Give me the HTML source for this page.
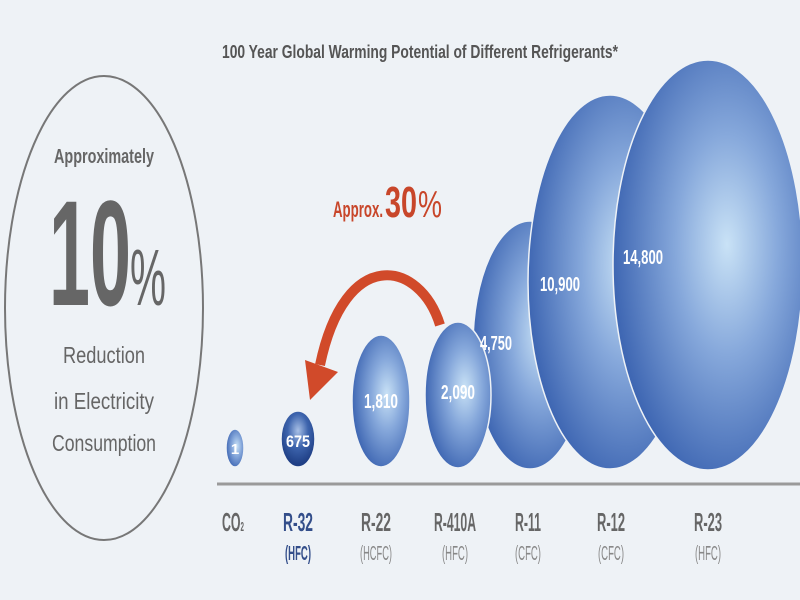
<!DOCTYPE html>
<html><head><meta charset="utf-8"><style>
html,body{margin:0;padding:0;background:#eef2f6;}
svg{display:block;font-family:"Liberation Sans",sans-serif;}
</style></head><body>
<svg width="800" height="600" viewBox="0 0 800 600">
<defs>
<radialGradient id="b" cx="0.6" cy="0.45" r="0.6">
<stop offset="0" stop-color="#c9e2f6"/><stop offset="0.45" stop-color="#86a8db"/><stop offset="1" stop-color="#3f67b3"/>
</radialGradient>
<radialGradient id="d" cx="0.5" cy="0.35" r="0.6">
<stop offset="0" stop-color="#a8c0e6"/><stop offset="0.5" stop-color="#3d64ad"/><stop offset="1" stop-color="#1f3f85"/>
</radialGradient>
</defs>
<rect width="800" height="600" fill="#eef2f6"/>
<text x="420" y="58" font-size="18" font-weight="bold" fill="#555" text-anchor="middle" textLength="396" lengthAdjust="spacingAndGlyphs">100 Year Global Warming Potential of Different Refrigerants*</text>
<ellipse cx="104" cy="308" rx="99" ry="232" fill="none" stroke="#777" stroke-width="2"/>
<g fill="#666" text-anchor="middle" font-weight="bold">
<text x="104" y="163" font-size="20" textLength="100" lengthAdjust="spacingAndGlyphs">Approximately</text>
<text x="90" y="305" font-size="150" textLength="82" lengthAdjust="spacingAndGlyphs">10</text>
<text x="148" y="305" font-size="80" font-weight="normal" textLength="36" lengthAdjust="spacingAndGlyphs">%</text>
<text x="104" y="363" font-size="23" font-weight="normal" textLength="82" lengthAdjust="spacingAndGlyphs">Reduction</text>
<text x="104" y="409" font-size="23" font-weight="normal" textLength="100" lengthAdjust="spacingAndGlyphs">in Electricity</text>
<text x="104" y="451" font-size="23" font-weight="normal" textLength="104" lengthAdjust="spacingAndGlyphs">Consumption</text>
</g>
<g stroke="#eef2f6" stroke-width="1.5">
<ellipse cx="530" cy="345" rx="57" ry="124" fill="url(#b)"/>
<ellipse cx="610" cy="282" rx="82" ry="187" fill="url(#b)"/>
<ellipse cx="708" cy="265" rx="95" ry="205" fill="url(#b)"/>
<ellipse cx="458" cy="395" rx="33" ry="73" fill="url(#b)"/>
<ellipse cx="381" cy="401" rx="29" ry="66" fill="url(#b)"/>
<ellipse cx="298" cy="439" rx="17" ry="28" fill="url(#d)"/>
<ellipse cx="235" cy="448" rx="9" ry="19" fill="url(#b)"/>
</g>
<g fill="#fff" font-size="20" font-weight="bold" text-anchor="middle">
<text x="235" y="454" font-size="15">1</text>
<text x="298" y="447" font-size="17" textLength="24" lengthAdjust="spacingAndGlyphs">675</text>
<text x="381" y="408" textLength="34" lengthAdjust="spacingAndGlyphs">1,810</text>
<text x="458" y="399" textLength="34" lengthAdjust="spacingAndGlyphs">2,090</text>
<text x="496" y="350" textLength="32" lengthAdjust="spacingAndGlyphs">4,750</text>
<text x="560" y="291" textLength="40" lengthAdjust="spacingAndGlyphs">10,900</text>
<text x="643" y="264" textLength="40" lengthAdjust="spacingAndGlyphs">14,800</text>
</g>
<path d="M440 325 C420 260 345 245 320 365" fill="none" stroke="#d14a2a" stroke-width="10"/>
<polygon points="305,360 338,372 310,400" fill="#d14a2a"/>
<text x="333" y="217" font-size="22" font-weight="bold" fill="#c8462a" textLength="50" lengthAdjust="spacingAndGlyphs">Approx.</text>
<text x="385" y="217" font-size="44" fill="#c8462a" font-weight="bold" textLength="32" lengthAdjust="spacingAndGlyphs">30</text>
<text x="418" y="217" font-size="38" fill="#c8462a" textLength="24" lengthAdjust="spacingAndGlyphs">%</text>
<line x1="217" y1="484" x2="800" y2="484" stroke="#9a9a9a" stroke-width="3"/>
<g font-size="26" text-anchor="middle" fill="#666" font-weight="bold">
<text x="233" y="531" textLength="22" lengthAdjust="spacingAndGlyphs">CO<tspan font-size="13">2</tspan></text>
<text x="298" y="531" fill="#334e8a" textLength="30" lengthAdjust="spacingAndGlyphs">R-32</text>
<text x="376" y="531" textLength="30" lengthAdjust="spacingAndGlyphs">R-22</text>
<text x="455" y="531" textLength="42" lengthAdjust="spacingAndGlyphs">R-410A</text>
<text x="528" y="531" textLength="26" lengthAdjust="spacingAndGlyphs">R-11</text>
<text x="611" y="531" textLength="28" lengthAdjust="spacingAndGlyphs">R-12</text>
<text x="708" y="531" textLength="28" lengthAdjust="spacingAndGlyphs">R-23</text>
</g>
<g font-size="20" text-anchor="middle" fill="#888">
<text x="298" y="560" fill="#334e8a" font-weight="bold" textLength="26" lengthAdjust="spacingAndGlyphs">(HFC)</text>
<text x="376" y="560" textLength="32" lengthAdjust="spacingAndGlyphs">(HCFC)</text>
<text x="455" y="560" textLength="26" lengthAdjust="spacingAndGlyphs">(HFC)</text>
<text x="528" y="560" textLength="26" lengthAdjust="spacingAndGlyphs">(CFC)</text>
<text x="611" y="560" textLength="26" lengthAdjust="spacingAndGlyphs">(CFC)</text>
<text x="708" y="560" textLength="26" lengthAdjust="spacingAndGlyphs">(HFC)</text>
</g>
</svg>
</body></html>
